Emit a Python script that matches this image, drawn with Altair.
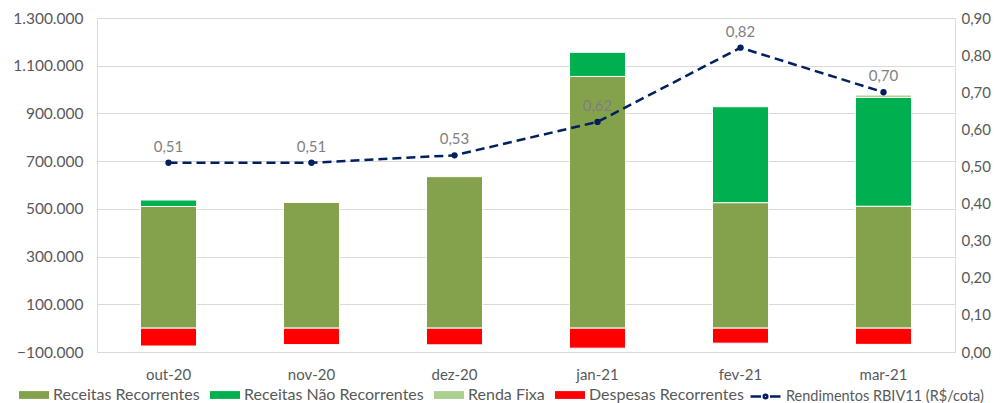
import altair as alt
import pandas as pd

FONT = "Lato"
GRAY = "#595959"

meses = ["out-20", "nov-20", "dez-20", "jan-21", "fev-21", "mar-21"]
receitas_recorrentes = [510000, 527000, 635000, 1055000, 526000, 511000]
receitas_nao_recorrentes = [27000, 0, 0, 101000, 402000, 456000]
renda_fixa = [0, 0, 0, 0, 0, 10000]
despesas_recorrentes = [-75000, -69000, -70000, -84000, -63000, -68000]
rendimentos = [0.51, 0.51, 0.53, 0.62, 0.82, 0.70]

series = ["Receitas Recorrentes", "Receitas Não Recorrentes", "Renda Fixa", "Despesas Recorrentes"]
cores = ["#84a24c", "#00b050", "#a9d08e", "#ff0000"]
serie_linha = "Rendimentos RBIV11 (R$/cota)"

left_ticks = [-100000, 100000, 300000, 500000, 700000, 900000, 1100000, 1300000]
right_ticks = [0.0, 0.1, 0.2, 0.3, 0.4, 0.5, 0.6, 0.7, 0.8, 0.9]

rows = []
for i, m in enumerate(meses):
    for k, (s, vals) in enumerate(zip(series, [receitas_recorrentes, receitas_nao_recorrentes, renda_fixa, despesas_recorrentes])):
        if vals[i] != 0:
            rows.append({"mes": m, "serie": s, "valor": vals[i], "ordem": k})
df_bars = pd.DataFrame(rows)

df_linha = pd.DataFrame({
    "mes": meses,
    "rend": rendimentos,
    "serie": [serie_linha] * len(meses),
    "label": [f"{v:.2f}".replace(".", ",") for v in rendimentos],
})

x_enc = alt.X(
    "mes:N", sort=meses,
    scale=alt.Scale(paddingInner=0.608, paddingOuter=0.304),
    axis=alt.Axis(title=None, labelAngle=0, ticks=False, domain=False, labelPadding=15,
                  labelFontSize=15, labelColor=GRAY, labelFont=FONT),
)

bars = alt.Chart(df_bars).mark_bar(stroke="white", strokeWidth=1).encode(
    x=x_enc,
    y=alt.Y(
        "valor:Q", stack="zero",
        scale=alt.Scale(domain=[-100000, 1300000], nice=False, zero=False),
        axis=alt.Axis(
            title=None, values=left_ticks, grid=True, gridColor="#d9d9d9", gridWidth=1,
            domain=False, ticks=False, labelPadding=14, labelFontSize=15.5, labelColor=GRAY, labelFont=FONT,
            labelOverlap=False,
            labelExpr="replace(replace(format(datum.value, ',d'), ',', '.'), ',', '.')",
        ),
    ),
    color=alt.Color(
        "serie:N", scale=alt.Scale(domain=series, range=cores),
        legend=alt.Legend(
            title=None, orient="none", direction="horizontal", legendX=-78, legendY=362,
            symbolType="M-1,-0.26H1V0.26H-1Z", symbolSize=900, symbolStrokeWidth=0,
            labelFontSize=16, labelColor=GRAY, labelFont=FONT, columnPadding=10, labelOffset=4,
            labelLimit=400, columns=4,
        ),
    ),
    order=alt.Order("ordem:Q"),
)

y_scale_r = alt.Scale(domain=[0, 0.9], nice=False)
axis_r = alt.Axis(
    title=None, orient="right", values=right_ticks, grid=False, domain=False, ticks=False,
    labelPadding=6, labelFontSize=15, labelColor=GRAY, labelFont=FONT, labelOverlap=False,
    labelExpr="replace(format(datum.value, '.2f'), '.', ',')",
)

linha = alt.Chart(df_linha).mark_line(strokeDash=[9, 5], strokeWidth=2.5).encode(
    x=alt.X("mes:N", sort=meses),
    y=alt.Y("rend:Q", scale=y_scale_r, axis=axis_r),
    color=alt.Color(
        "serie:N", scale=alt.Scale(domain=[serie_linha], range=["#002060"]),
        legend=alt.Legend(
            title=None, orient="none", direction="horizontal", legendX=652, legendY=362,
            symbolType="M-1,0H-0.3M0.3,0H1M-0.12,0A0.12,0.12,0,1,0,0.12,0A0.12,0.12,0,1,0,-0.12,0Z",
            symbolSize=900, symbolStrokeWidth=2.5,
            labelFontSize=14.5, labelColor=GRAY, labelFont=FONT, labelOffset=4, labelLimit=400,
        ),
    ),
)

pontos = alt.Chart(df_linha).mark_circle(size=40, opacity=1, color="#002060").encode(
    x=alt.X("mes:N", sort=meses),
    y=alt.Y("rend:Q", scale=y_scale_r, axis=axis_r),
)

rotulos = alt.Chart(df_linha).mark_text(dy=-16, fontSize=15, color="#7f7f7f", font=FONT).encode(
    x=alt.X("mes:N", sort=meses),
    y=alt.Y("rend:Q", scale=y_scale_r, axis=axis_r),
    text="label:N",
)

direita = alt.layer(linha, pontos, rotulos)

chart = alt.layer(bars, direita).resolve_scale(y="independent", color="independent").properties(
    width=858, height=334,
    autosize=alt.AutoSizeParams(type="none"),
    padding={"left": 89, "top": 10, "right": 37, "bottom": 60},
).configure_view(strokeWidth=0, stroke="transparent").configure_axis(
    domain=False, ticks=False, labelOverlap=False
).configure(font=FONT)

chart.save("out.html", embed_options={"renderer": "svg", "actions": False})
